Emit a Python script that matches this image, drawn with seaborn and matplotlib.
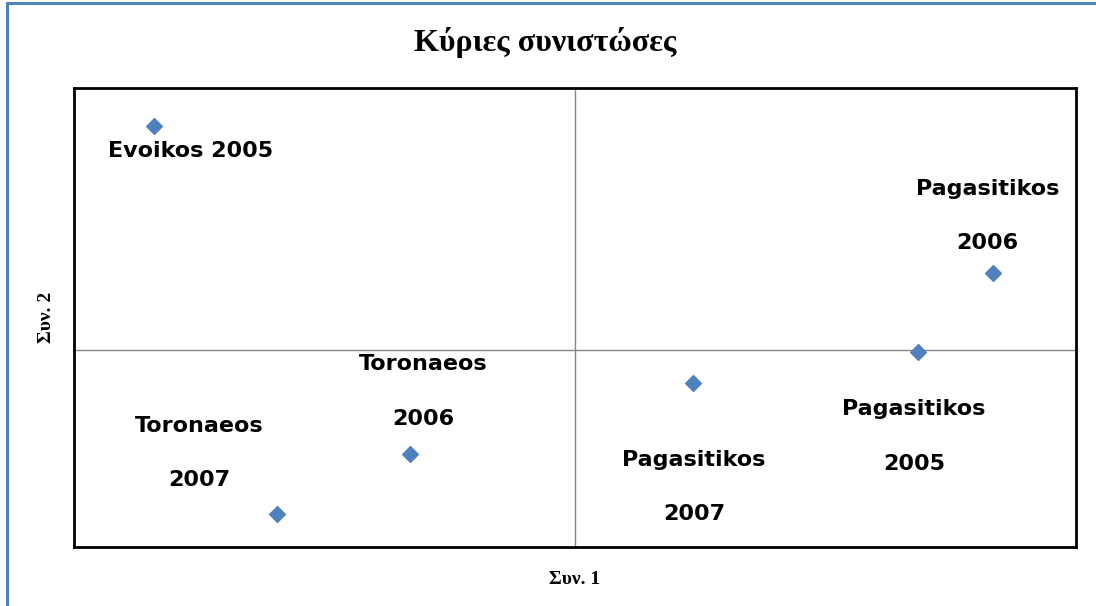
import numpy as np
import pandas as pd
import matplotlib
matplotlib.use("Agg")
import matplotlib.pyplot as plt
import seaborn as sns
from matplotlib.lines import Line2D

# Συντεταγμένες κύριων συνιστωσών (εκτίμηση από το γράφημα)
names = ["Evoikos 2005", "Pagasitikos\n2006", "Pagasitikos\n2005",
         "Pagasitikos\n2007", "Toronaeos\n2006", "Toronaeos\n2007"]
comp1 = [-1.68, 1.67, 1.37, 0.47, -0.66, -1.19]
comp2 = [1.71, 0.59, -0.01, -0.25, -0.79, -1.25]

# μετατόπιση ετικετών σε points
label_offsets = [(26, -18), (-4, 41), (-3, -61), (1, -75), (10, 45), (-56, 44)]

BLUE = "#4F81BD"

df = pd.DataFrame({"name": names, "c1": comp1, "c2": comp2})

sns.set_theme(style="white")
plt.rcParams['font.family'] = ['DejaVu Sans']
plt.rcParams['text.color'] = 'black'
plt.rcParams['axes.labelcolor'] = 'black'

fig = plt.figure(figsize=(10.96, 6.06), dpi=100)
ax = fig.add_axes([74 / 1096, 1 - 547 / 606, 1002 / 1096, 459 / 606])

sns.scatterplot(data=df, x="c1", y="c2", ax=ax, marker="D", s=65,
                color=BLUE, edgecolor=BLUE, linewidth=1, zorder=3)

ax.set_xlim(-2, 2)
ax.set_ylim(-1.5, 2)
ax.axvline(0, color="#868686", lw=1, zorder=1)
ax.axhline(0, color="#868686", lw=1, zorder=1)
ax.set_xticks([])
ax.set_yticks([])
for sp in ax.spines.values():
    sp.set_color("black")
    sp.set_linewidth(2)

for i, row in df.iterrows():
    ax.annotate(row["name"], (row["c1"], row["c2"]), xytext=label_offsets[i],
                textcoords="offset points", ha="center", va="center",
                fontsize=16, fontweight="bold", linespacing=3.15,
                color="black", zorder=4)

ax.set_xlabel("Συν. 1", fontsize=14, fontweight="bold",
              family="Liberation Serif", labelpad=17)
ax.set_ylabel("Συν. 2", fontsize=14, fontweight="bold",
              family="Liberation Serif", labelpad=14)

fig.text(545 / 1096, 1 - 43 / 606, "Κύριες συνιστώσες", ha="center", va="center",
         fontsize=23, fontweight="bold", family="Liberation Serif", color="black")

# μπλε περίγραμμα του πλαισίου
fig.add_artist(Line2D([7 / 1096, 7 / 1096], [0, 1 - 3 / 606], color=BLUE, lw=2.2,
                      transform=fig.transFigure))
fig.add_artist(Line2D([7 / 1096, 1], [1 - 3 / 606, 1 - 3 / 606], color=BLUE, lw=2.2,
                      transform=fig.transFigure))

fig.savefig("out.png", dpi=100, facecolor="white")
